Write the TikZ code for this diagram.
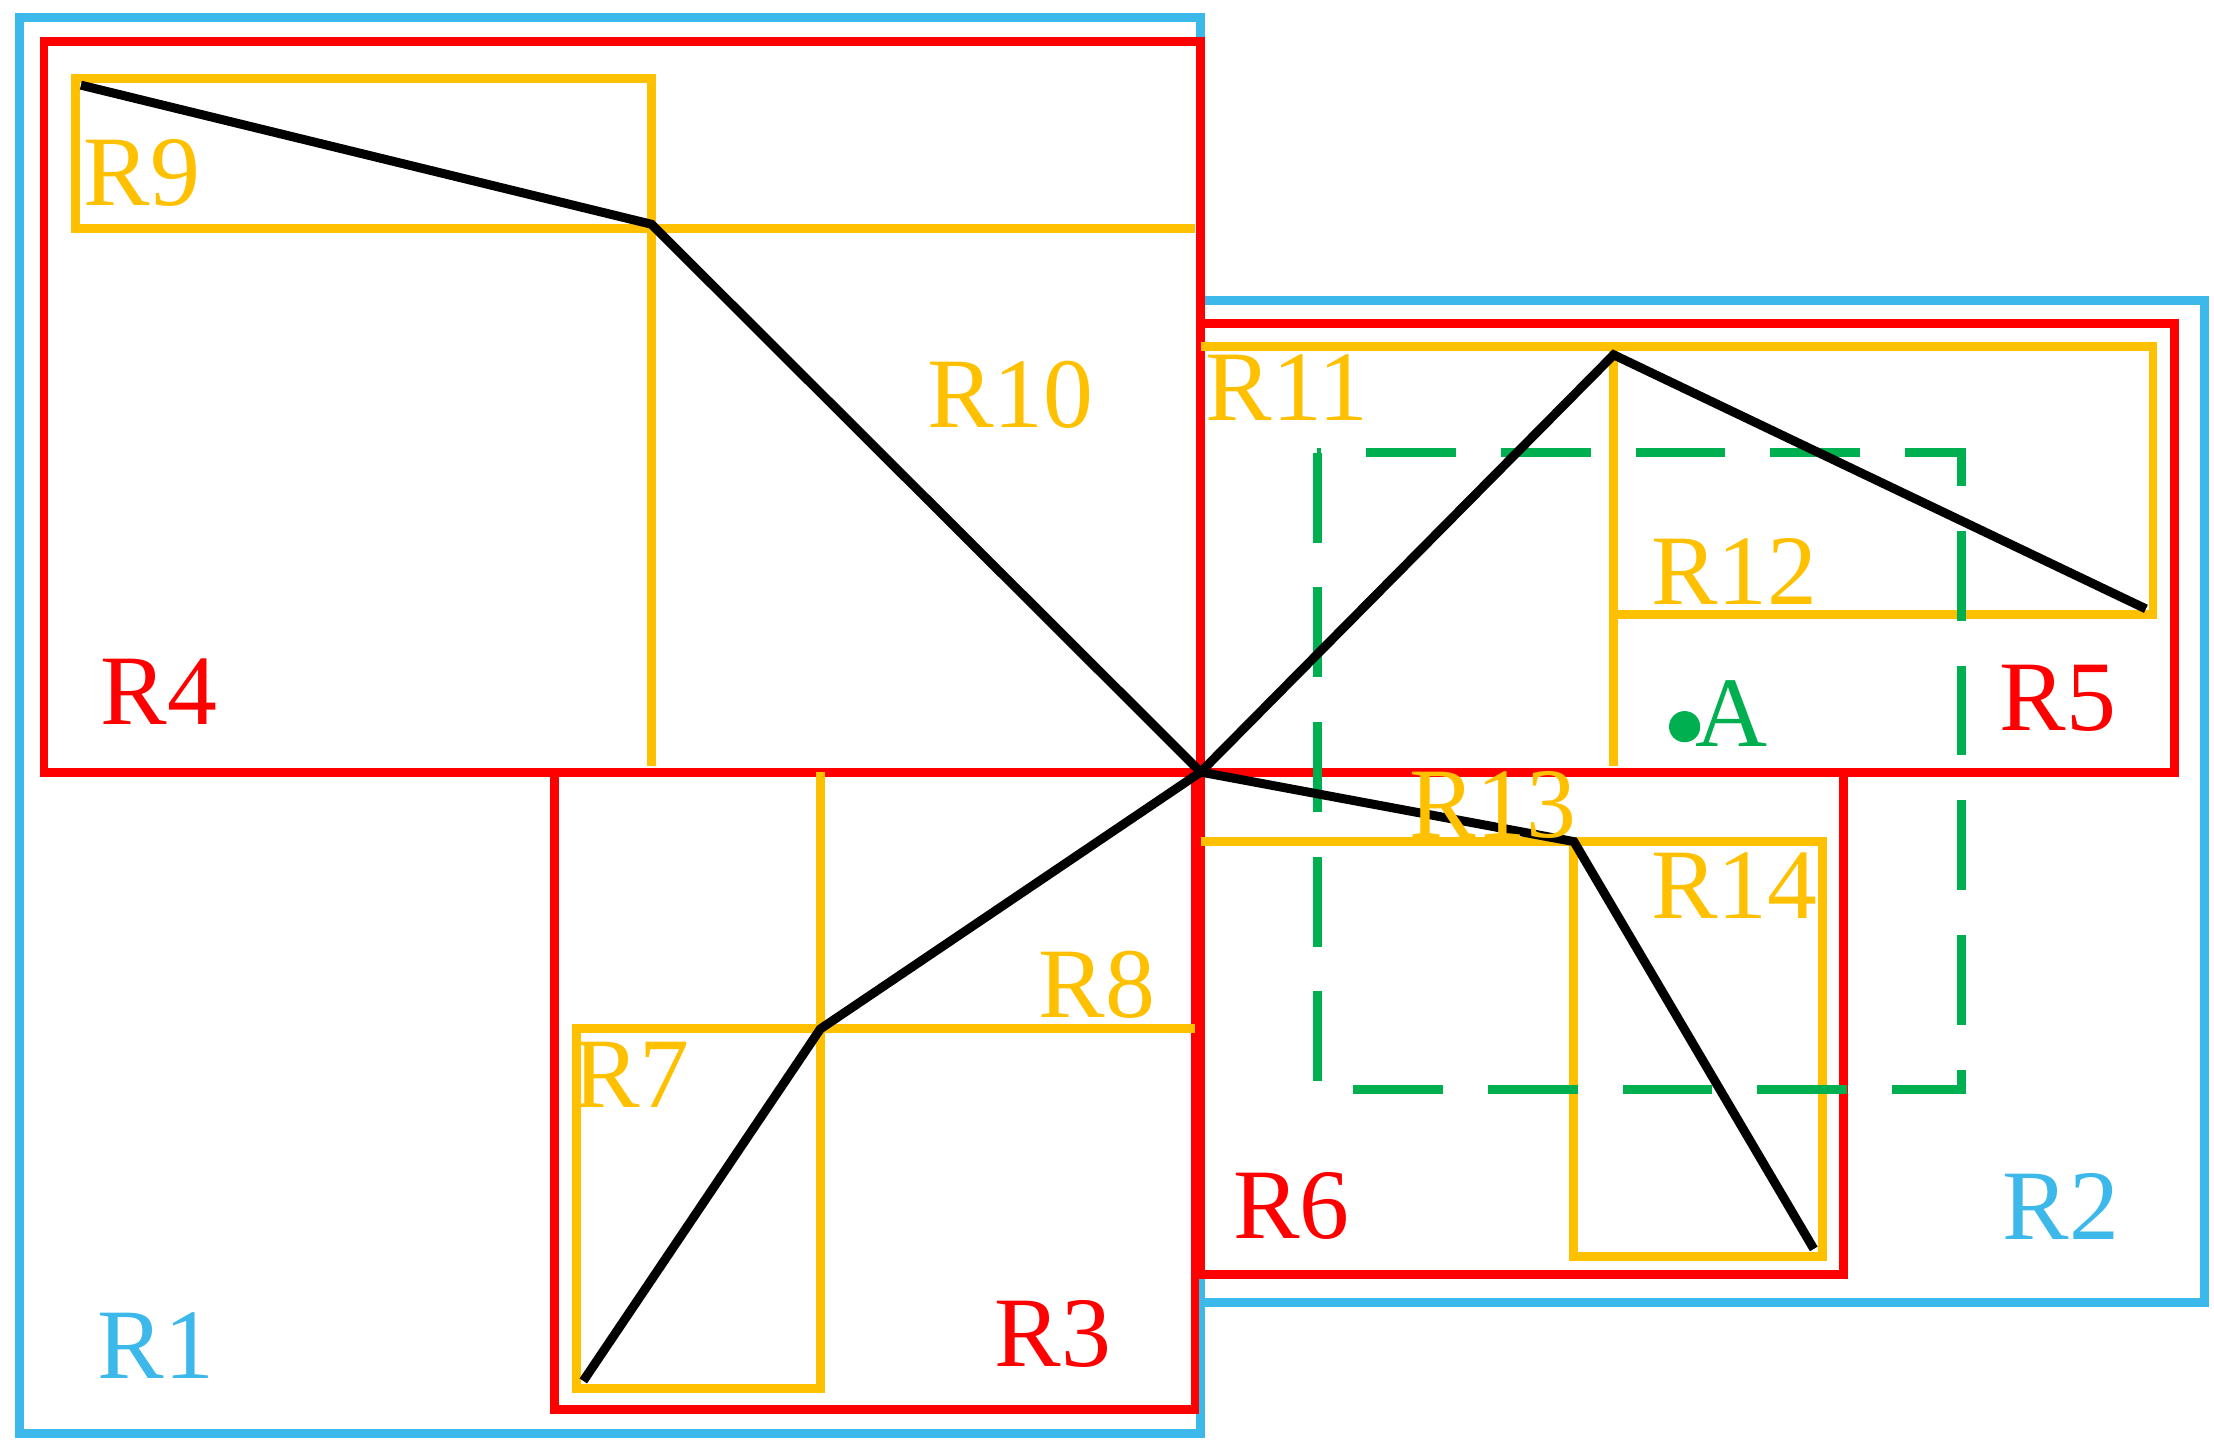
\documentclass[tikz,border=0pt]{standalone}
\usepackage{fontspec}
\setmainfont{Liberation Serif}
\usetikzlibrary{positioning}
\definecolor{rblue}{HTML}{3DB8EA}
\definecolor{rred}{HTML}{FF0000}
\definecolor{rorange}{HTML}{FFC000}
\definecolor{rgreen}{HTML}{00B050}
\newcommand{\lw}{1.8pt}
\tikzset{
	blueR/.style = {draw=rblue, line width=\lw},
	redR/.style = {draw=rred, line width=\lw},
	orangeR/.style = {draw=rorange, line width=\lw},
	path/.style = {draw=black, line width=\lw},
	lbl/.style = {font=\fontsize{20}{20}\selectfont, inner sep=0pt}
}
\begin{document}
\begin{tikzpicture}[x=0.1mm, y=-0.1mm]
	\useasboundingbox (0,0) rectangle (1560,1018);
	%\draw[help lines] (0,0) grid (1560,1018);
	% level 1
	\draw[blueR] (14,12) rectangle (846,1010);
	\draw[blueR] (846,212) rectangle (1553,918);
	% level 2
	\draw[redR] (31,29) rectangle (846,544);
	\draw[redR] (391,544) rectangle (842,993);
	\draw[redR] (846,228) rectangle (1532,544);
	\draw[redR] (846,544) rectangle (1299,898);
	% level 3
	\draw[orangeR] (53,55) rectangle (459,161);
	\draw[orangeR] (459,540) -- (459,161) -- (842,161);
	\draw[orangeR] (406,725) rectangle (578,978);
	\draw[orangeR] (578,544) -- (578,725) -- (842,725);
	\draw[orangeR] (846,244) -- (1517,244) -- (1517,433) -- (1137,433);
	\draw[orangeR] (1137,244) -- (1137,540);
	\draw[orangeR] (846,593) -- (1109,593);
	\draw[orangeR] (1109,593) rectangle (1284,885);
	% query window
	\draw[rgreen, line width=\lw, dash pattern=on 18pt off 9pt] (928,319) rectangle (1382,768);
	\fill[rgreen] (1187,512) circle (11);
	% polyline
	\coordinate (c) at (846,544);
	\coordinate (p1) at (57,60);
	\coordinate (p2) at (459,158);
	\coordinate (p3) at (578,725);
	\coordinate (p4) at (411,973);
	\coordinate (p5) at (1137,250);
	\coordinate (p6) at (1512,429);
	\coordinate (p7) at (1109,593);
	\coordinate (p8) at (1278,880);
	\draw[path] (p1) -- (p2) -- (c) -- (p3) -- (p4);
	\draw[path] (c) -- (p5) -- (p6);
	\draw[path] (c) -- (p7) -- (p8);
	% labels
	\node[lbl, text=rblue] (r1) at (110,948) {R1};
	\node[lbl, text=rblue] (r2) at (1452,850) {R2};
	\node[lbl, text=rred] (r3) at (742,940) {R3};
	\node[lbl, text=rred] (r4) at (112,487) {R4};
	\node[lbl, text=rred] (r5) at (1450,492) {R5};
	\node[lbl, text=rred] (r6) at (910,850) {R6};
	\node[lbl, text=rorange] (r7) at (445,757) {R7};
	\node[lbl, text=rorange] (r8) at (773,694) {R8};
	\node[lbl, text=rorange] (r9) at (100,122) {R9};
	\node[lbl, text=rorange] (r10) at (712,278) {R10};
	\node[lbl, text=rorange] (r11) at (907,273) {R11};
	\node[lbl, text=rorange] (r12) at (1222,403) {R12};
	\node[lbl, text=rorange] (r13) at (1052,567) {R13};
	\node[lbl, text=rorange] (r14) at (1222,624) {R14};
	\node[lbl, text=rgreen] (a) at (1220,503) {A};
\end{tikzpicture}
\end{document}
